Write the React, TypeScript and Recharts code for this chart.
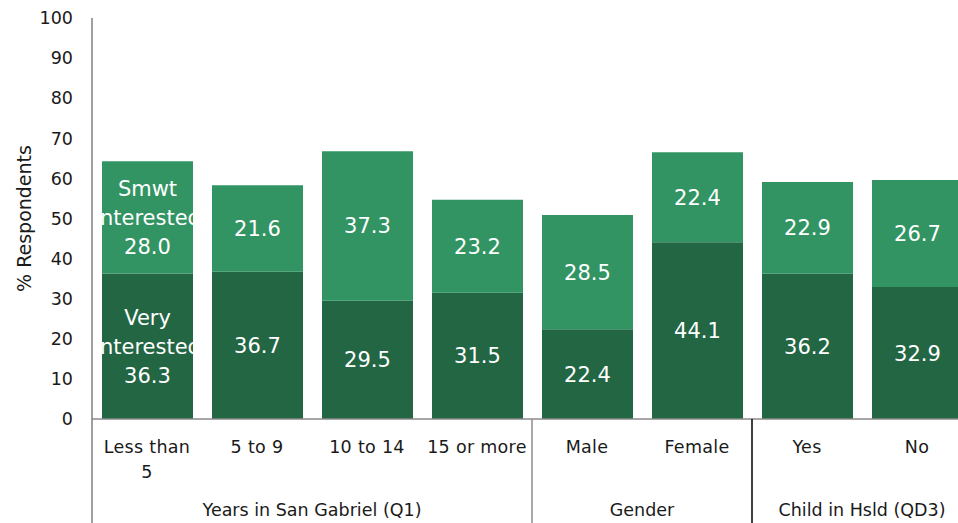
import { Bar, BarChart, LabelList, XAxis, YAxis } from "recharts"

const categories = ["Less than 5", "5 to 9", "10 to 14", "15 or more", "Male", "Female", "Yes", "No"]
const tickLines = [["Less than", "5"], ["5 to 9"], ["10 to 14"], ["15 or more"], ["Male"], ["Female"], ["Yes"], ["No"]]
const veryInterested = [36.3, 36.7, 29.5, 31.5, 22.4, 44.1, 36.2, 32.9]
const smwtInterested = [28.0, 21.6, 37.3, 23.2, 28.5, 22.4, 22.9, 26.7]
const groupNames = ["Years in San Gabriel (Q1)", "Gender", "Child in Hsld (QD3)"]
const groupSizes = [4, 2, 2]
const groupLineColors = ["#7f7f7f", "#8c8c8c", "#000000"]
const yTicks = [0, 10, 20, 30, 40, 50, 60, 70, 80, 90, 100]

const data = categories.map((cat, i) => ({
  cat,
  very: veryInterested[i],
  smwt: smwtInterested[i],
}))

const FONT = "DejaVu Sans, Verdana, sans-serif"
const CHART_W = 972
const CHART_H = 523
const MARGIN = { top: 18, right: 0, bottom: 0, left: 32 }
const Y_W = 60
const band = (CHART_W - MARGIN.left - MARGIN.right - Y_W) / categories.length

const DARK = "#236644"
const LIGHT = "#329463"

function makeLabel(seriesLines: string[], key: string) {
  return (props: any) => {
    const { x, y, width, height, value, index } = props
    const lines = index === 0 ? [...seriesLines, Number(value).toFixed(1)] : [Number(value).toFixed(1)]
    const cx = x + width / 2
    const cy = y + height / 2
    const lh = 29
    const id = `clip-${key}-${index}`
    return (
      <g>
        <clipPath id={id}>
          <rect x={x} y={y} width={width} height={height} />
        </clipPath>
        <text clipPath={`url(#${id})`} fill="#fff" fontSize={21} fontFamily={FONT} textAnchor="middle">
          {lines.map((l, i) => (
            <tspan key={i} x={cx} y={cy + (i - (lines.length - 1) / 2) * lh + 7.5}>
              {l}
            </tspan>
          ))}
        </text>
      </g>
    )
  }
}

function groupStarts() {
  const starts: number[] = []
  let acc = 0
  groupSizes.forEach((s) => {
    starts.push(acc)
    acc += s
  })
  return starts
}

function CategoryTick(props: any) {
  const { x, y, payload } = props
  const idx = payload.index
  const lines = tickLines[idx] || [String(payload.value)]
  const starts = groupStarts()
  const g = starts.indexOf(idx)
  return (
    <g>
      {lines.map((l, i) => (
        <text key={i} x={x} y={y + 34 + i * 25} textAnchor="middle" fontSize={17.5} fontFamily={FONT} fill="#1a1a1a" letterSpacing={0.3}>
          {l}
        </text>
      ))}
      {g >= 0 && (
        <g>
          <line
            x1={x - band / 2}
            x2={x - band / 2}
            y1={y}
            y2={y + 104}
            stroke={groupLineColors[g]}
            strokeWidth={1.5}
          />
          <text
            x={x + ((groupSizes[g] - 1) * band) / 2}
            y={y + 97}
            textAnchor="middle"
            fontSize={17.5}
            fontFamily={FONT}
            fill="#1a1a1a"
          >
            {groupNames[g]}
          </text>
        </g>
      )}
    </g>
  )
}

function YLabel(props: any) {
  const vb = props.viewBox || {}
  const cx = (vb.x ?? MARGIN.left) - 8
  const cy = (vb.y ?? 18) + (vb.height ?? 401) / 2
  return (
    <text
      x={cx}
      y={cy}
      transform={`rotate(-90 ${cx} ${cy})`}
      textAnchor="middle"
      dominantBaseline="central"
      fontSize={19}
      fontFamily={FONT}
      fill="#1a1a1a"
    >
      % Respondents
    </text>
  )
}

export default function App() {
  return (
    <div style={{ width: 958, height: 523, overflow: "hidden", background: "#fff" }}>
      <style>{`body{margin:0}`}</style>
      <BarChart width={CHART_W} height={CHART_H} data={data} margin={MARGIN}>
        <XAxis
          dataKey="cat"
          interval={0}
          height={104}
          tickLine={false}
          tickSize={0}
          tickMargin={0}
          axisLine={{ stroke: "#8a8a8a", strokeWidth: 1.5 }}
          tick={<CategoryTick />}
        />
        <YAxis
          width={Y_W}
          domain={[0, 100]}
          ticks={yTicks}
          interval={0}
          tickLine={false}
          tickMargin={13}
          axisLine={{ stroke: "#7f7f7f", strokeWidth: 1.5 }}
          tick={{ fontSize: 17.5, fontFamily: FONT, fill: "#1a1a1a" }}
          label={<YLabel />}
        />
        <Bar dataKey="very" stackId="a" fill={DARK} barSize={91} isAnimationActive={false}>
          <LabelList dataKey="very" content={makeLabel(["Very", "interested"], "very")} />
        </Bar>
        <Bar dataKey="smwt" stackId="a" fill={LIGHT} barSize={91} isAnimationActive={false}>
          <LabelList dataKey="smwt" content={makeLabel(["Smwt", "interested"], "smwt")} />
        </Bar>
      </BarChart>
    </div>
  )
}
